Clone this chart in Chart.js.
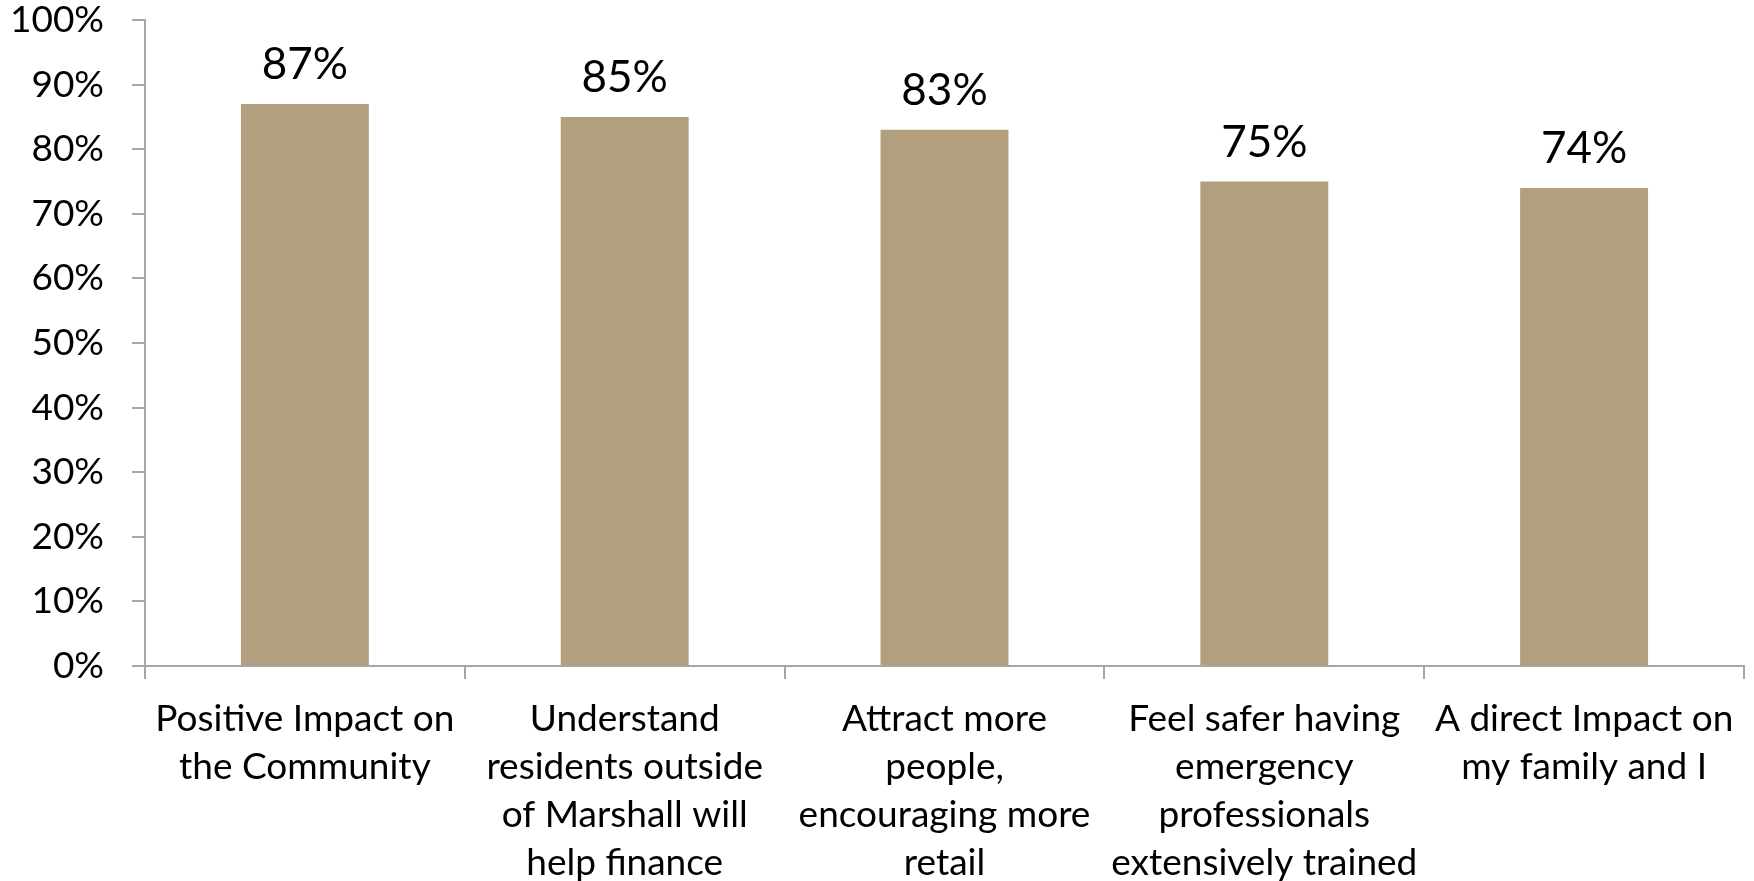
<!DOCTYPE html>
<html>
<head>
<meta charset="utf-8">
<script src="https://cdn.jsdelivr.net/npm/chart.js@4/dist/chart.umd.min.js"></script>
<style>
  body { margin: 0; background: #fff; }
  canvas { display: block; }
</style>
</head>
<body>
<canvas id="myChart" width="1754" height="881"></canvas>
<script>
const categories = [
  ["Positive Impact on", "the Community"],
  ["Understand", "residents outside", "of Marshall will", "help finance"],
  ["Attract more", "people,", "encouraging more", "retail"],
  ["Feel safer having", "emergency", "professionals", "extensively trained"],
  ["A direct Impact on", "my family and I"],
];
const values = [87, 85, 83, 75, 74];
const yTicks = [0, 10, 20, 30, 40, 50, 60, 70, 80, 90, 100];

const FONT = "Lato, 'Open Sans', sans-serif";
const AXIS = "#A6A6A6";

// draws the "87%" style numbers over each bar
const barLabels = {
  id: "barLabels",
  afterDatasetsDraw(chart) {
    const ctx = chart.ctx;
    const meta = chart.getDatasetMeta(0);
    ctx.save();
    ctx.font = "44px " + FONT;
    ctx.fillStyle = "#000";
    ctx.textAlign = "center";
    ctx.textBaseline = "middle";
    meta.data.forEach((bar, i) => {
      ctx.fillText(values[i] + "%", bar.x, bar.y - 39);
    });
    ctx.restore();
  },
};

const ctx = document.getElementById("myChart");

new Chart(ctx, {
  type: "bar",
  data: {
    labels: categories,
    datasets: [
      {
        data: values,
        backgroundColor: "#B19F7D",
        categoryPercentage: 1,
        barPercentage: 0.4,
      },
    ],
  },
  options: {
    responsive: false,
    animation: false,
    layout: { padding: { top: 0, right: 10, left: 0, bottom: 0 } },
    plugins: {
      legend: { display: false },
      tooltip: { enabled: false },
    },
    scales: {
      x: {
        grid: {
          offset: true,
          drawOnChartArea: false,
          drawTicks: true,
          tickLength: 13,
          color: AXIS,
          lineWidth: 2,
        },
        border: { color: AXIS, width: 2 },
        ticks: {
          color: "#000",
          padding: 16,
          maxRotation: 0,
          autoSkip: false,
          font: { family: FONT, size: 37, lineHeight: 1.3 },
        },
        afterFit: (s) => { s.height = 215; },
      },
      y: {
        min: 0,
        max: 100,
        afterBuildTicks: (s) => { s.ticks = yTicks.map((v) => ({ value: v })); },
        grid: {
          drawOnChartArea: false,
          drawTicks: true,
          tickLength: 13,
          color: AXIS,
          lineWidth: 2,
        },
        border: { color: AXIS, width: 2 },
        ticks: {
          color: "#000",
          padding: 28,
          font: { family: FONT, size: 37, lineHeight: 1.08 },
          callback: (v) => v + "%",
        },
        afterFit: (s) => {
          s.width = 145;
          s.paddingTop = 20;
          s.paddingBottom = 0;
        },
      },
    },
  },
  plugins: [barLabels],
});
</script>
</body>
</html>
